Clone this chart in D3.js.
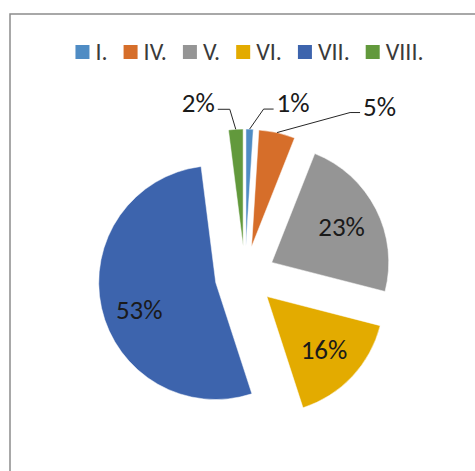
<!DOCTYPE html>
<html>
<head>
<meta charset="utf-8">
<script src="https://cdn.jsdelivr.net/npm/d3@7"></script>
<style>
  html, body { margin: 0; padding: 0; background: #fff; }
  svg { display: block; font-family: Carlito, Calibri, Lato, sans-serif; }
</style>
</head>
<body>
<div id="chart"></div>
<script>
(function () {
  "use strict";

  // data
  var categories = ["I.", "IV.", "V.", "VI.", "VII.", "VIII."];
  var shares = [1, 5, 23, 16, 53, 2];
  var colors = ["#4F8CC4", "#D66E2A", "#959595", "#E3AB00", "#3D64AD", "#62993C"];
  var outsideLabels = ["I.", "IV.", "VIII."];

  var W = 475, H = 471;
  var cx = 245, cy = 276, R = 117, EXPLODE = 30;
  // horizontal nudge of outside-label elbows (Excel pushes them apart)
  var elbowShift = { "I.": 14, "IV.": 73, "VIII.": -6 };

  var svg = d3.select("#chart").append("svg")
    .attr("width", W).attr("height", H);

  // chart area border (runs off the right / bottom edges)
  svg.append("rect")
    .attr("x", 10).attr("y", 14)
    .attr("width", W + 20).attr("height", H + 20)
    .attr("fill", "#fff").attr("stroke", "#8c8c8c").attr("stroke-width", 1.5);

  var rows = categories.map(function (c, i) {
    return { cat: c, value: shares[i], color: colors[i] };
  });

  var pie = d3.pie().sort(null).value(function (d) { return d.value; });
  var arcs = pie(rows);
  var arc = d3.arc().innerRadius(0).outerRadius(R);
  var labelArc = d3.arc().innerRadius(R * 0.67).outerRadius(R * 0.67);

  function mid(d) { return (d.startAngle + d.endAngle) / 2; }
  function offset(d, dist) {
    var a = mid(d);
    return [Math.sin(a) * dist, -Math.cos(a) * dist];
  }

  var g = svg.append("g").attr("transform", "translate(" + cx + "," + cy + ")");

  var slices = g.selectAll("g.slice")
    .data(arcs)
    .join("g")
    .attr("class", "slice")
    .attr("transform", function (d) {
      var o = offset(d, EXPLODE);
      return "translate(" + o[0] + "," + o[1] + ")";
    });

  slices.append("path")
    .attr("d", arc)
    .attr("fill", function (d) { return d.data.color; })
    .attr("stroke", "#fff")
    .attr("stroke-width", 0.5);

  // inside labels
  slices.filter(function (d) { return outsideLabels.indexOf(d.data.cat) < 0; })
    .append("text")
    .attr("transform", function (d) {
      var c = labelArc.centroid(d);
      if (d.data.cat === "VII.") c[1] += 10; // Excel best-fit sits a bit lower
      return "translate(" + c[0] + "," + c[1] + ")";
    })
    .attr("text-anchor", "middle")
    .attr("dy", "0.33em")
    .attr("font-size", 27)
    .attr("fill", "#1a1a1a")
    .text(function (d) { return d.data.value + "%"; });

  // outside labels with leader lines
  var outer = arcs.filter(function (d) { return outsideLabels.indexOf(d.data.cat) >= 0; });
  outer.forEach(function (d) {
    var tip = offset(d, R + EXPLODE);
    var ex = tip[0] + elbowShift[d.data.cat];
    var ey = tip[1] - 20;
    var left = elbowShift[d.data.cat] < 0;
    var hx = ex + (left ? -12 : 10);
    g.append("polyline")
      .attr("points", [[tip[0], tip[1]], [ex, ey], [hx, ey]].map(function (p) { return p.join(","); }).join(" "))
      .attr("fill", "none")
      .attr("stroke", "#262626")
      .attr("stroke-width", 1);
    g.append("text")
      .attr("x", hx + (left ? -3 : 3))
      .attr("y", ey + 3)
      .attr("text-anchor", left ? "end" : "start")
      .attr("font-size", 27)
      .attr("fill", "#1a1a1a")
      .text(d.data.value + "%");
  });

  // legend
  var legend = svg.append("g");
  var items = legend.selectAll("g.item")
    .data(rows)
    .join("g")
    .attr("class", "item");
  items.append("rect")
    .attr("width", 14).attr("height", 14)
    .attr("y", -14)
    .attr("fill", function (d) { return d.color; });
  items.append("text")
    .attr("x", 20)
    .attr("y", 1)
    .attr("font-size", 24)
    .attr("fill", "#3a3a3a")
    .text(function (d) { return d.cat; });

  var x = 0;
  items.each(function () {
    var el = d3.select(this);
    var w = 20 + el.select("text").node().getComputedTextLength();
    el.attr("data-x", x);
    x += w + 16;
  });
  var total = x - 16;
  var start = 249.5 - total / 2;
  items.attr("transform", function () {
    return "translate(" + (start + (+this.getAttribute("data-x"))) + ",59)";
  });
})();
</script>
</body>
</html>
